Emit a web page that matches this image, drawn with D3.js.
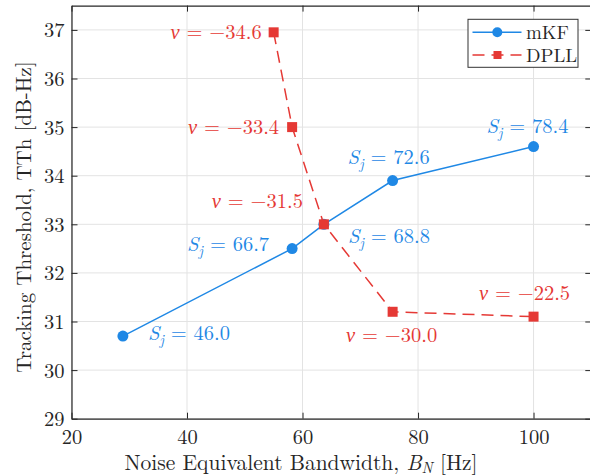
<!DOCTYPE html>
<html><head><meta charset="utf-8">
<script src="https://cdn.jsdelivr.net/npm/d3@7"></script>
<style>
html,body{margin:0;padding:0;background:#fff;}
svg{display:block;}
</style></head>
<body>
<svg id="c" width="590" height="476"></svg>
<script>
// ---- data ----
const mkfBN  = [28.9, 58.2, 63.7, 75.6, 100];
const mkfTTh = [30.7, 32.5, 33.0, 33.9, 34.6];
const mkfSj  = ["46.0", "66.7", "68.8", "72.6", "78.4"];
const dpllBN  = [55.0, 58.2, 63.7, 75.6, 100];
const dpllTTh = [36.95, 35.0, 33.0, 31.2, 31.1];
const dpllNu  = ["−34.6", "−33.4", "−31.5", "−30.0", "−22.5"];
const xTicks = [20, 40, 60, 80, 100];
const yTicks = [29, 30, 31, 32, 33, 34, 35, 36, 37];
const seriesNames = ["mKF", "DPLL"];

// ---- layout (not data) ----
const mkfLabelPos = [
  {dx: 25, dy: -3, anchor: "start"},
  {dx: -23, dy: -5, anchor: "end"},
  {dx: 24, dy: 12, anchor: "start"},
  {dx: -4, dy: -24, anchor: "middle"},
  {dx: -6, dy: -21, anchor: "middle"}
];
const dpllLabelPos = [
  {dx: -12, dy: 0, anchor: "end"},
  {dx: -13, dy: 0, anchor: "end"},
  {dx: -21, dy: -23, anchor: "end"},
  {dx: -1, dy: 23, anchor: "middle"},
  {dx: -9, dy: -24, anchor: "middle"}
];

const FONT = '"Latin Modern Roman","CMU Serif","Liberation Serif",serif';
const blue = "#1f88e5", red = "#e53935", ink = "#262626";
const svg = d3.select("#c");
const L = 71.5, R = 591.3, T = 5.6, B = 418.7;
const x = d3.scaleLinear().domain([20, 110]).range([L, R]);
const y = d3.scaleLinear().domain([29, 37.5]).range([B, T]);

// grid
const g = svg.append("g");
g.selectAll(".gx").data(xTicks).enter().append("line")
  .attr("x1", d => x(d)).attr("x2", d => x(d)).attr("y1", T).attr("y2", B)
  .attr("stroke", "#e3e3e3").attr("stroke-width", 1);
g.selectAll(".gy").data(yTicks).enter().append("line")
  .attr("x1", L).attr("x2", R).attr("y1", d => y(d)).attr("y2", d => y(d))
  .attr("stroke", "#e3e3e3").attr("stroke-width", 1);

// axes
const axB = svg.append("g").attr("transform", `translate(0,${B})`)
  .call(d3.axisBottom(x).tickValues(xTicks).tickSizeInner(-6).tickSizeOuter(0).tickPadding(12));
const axL = svg.append("g").attr("transform", `translate(${L},0)`)
  .call(d3.axisLeft(y).tickValues(yTicks).tickSizeInner(-6).tickSizeOuter(0).tickPadding(7));
const axT = svg.append("g").attr("transform", `translate(0,${T})`)
  .call(d3.axisTop(x).tickValues(xTicks).tickSizeInner(-6).tickSizeOuter(0).tickFormat(""));
const axR = svg.append("g").attr("transform", `translate(${R},0)`)
  .call(d3.axisRight(y).tickValues(yTicks).tickSizeInner(-6).tickSizeOuter(0).tickFormat(""));
[axB, axL, axT, axR].forEach(a => {
  a.attr("font-family", null);
  a.selectAll("path.domain").attr("stroke", ink).attr("stroke-width", 1.2);
  a.selectAll(".tick line").attr("stroke", ink).attr("stroke-width", 1);
  a.selectAll("text").attr("fill", ink).style("font-size", "20.5px").style("font-family", FONT);
});
axB.selectAll("text").attr("dy", "0.64em");
axL.selectAll("text").attr("dy", "0.34em");

// axis labels
const xl = svg.append("text").attr("x", 301).attr("y", 470).attr("text-anchor", "middle")
  .attr("fill", ink).style("font-size", "21.5px").style("font-family", FONT);
xl.append("tspan").text("Noise Equivalent Bandwidth, ");
xl.append("tspan").attr("font-style", "italic").text("B");
xl.append("tspan").attr("font-style", "italic").attr("dy", 3).style("font-size", "15px").text("N");
xl.append("tspan").attr("dy", -3).text(" [Hz]");

svg.append("text").attr("transform", "translate(31,217) rotate(-90)")
  .attr("text-anchor", "middle").attr("fill", ink).style("font-size", "21px").style("font-family", FONT)
  .text("Tracking Threshold, TTh [dB-Hz]");

// lines
const mkf = mkfBN.map((v, i) => ({x: v, y: mkfTTh[i], t: mkfSj[i], p: mkfLabelPos[i]}));
const dpll = dpllBN.map((v, i) => ({x: v, y: dpllTTh[i], t: dpllNu[i], p: dpllLabelPos[i]}));
const line = d3.line().x(d => x(d.x)).y(d => y(d.y));

svg.append("path").datum(mkf).attr("d", line).attr("fill", "none")
  .attr("stroke", blue).attr("stroke-width", 1.5);
svg.selectAll(".mk").data(mkf).enter().append("circle")
  .attr("cx", d => x(d.x)).attr("cy", d => y(d.y)).attr("r", 5.5).attr("fill", blue);

svg.append("path").datum(dpll).attr("d", line).attr("fill", "none")
  .attr("stroke", red).attr("stroke-width", 1.5).attr("stroke-dasharray", "12,7");
svg.selectAll(".dp").data(dpll).enter().append("rect")
  .attr("x", d => x(d.x) - 5).attr("y", d => y(d.y) - 5).attr("width", 10).attr("height", 10)
  .attr("fill", red);

// labels
const lfs = "20.5px";
mkf.forEach(d => {
  const t = svg.append("text").attr("x", x(d.x) + d.p.dx).attr("y", y(d.y) + d.p.dy + 7)
    .attr("text-anchor", d.p.anchor).attr("fill", blue).style("font-size", lfs).style("font-family", FONT);
  t.append("tspan").attr("font-style", "italic").text("S");
  t.append("tspan").attr("font-style", "italic").attr("dy", 5).style("font-size", "14.5px").text("j");
  t.append("tspan").attr("dy", -5).text(" = " + d.t);
});
dpll.forEach(d => {
  const t = svg.append("text").attr("x", x(d.x) + d.p.dx).attr("y", y(d.y) + d.p.dy + 7)
    .attr("text-anchor", d.p.anchor).attr("fill", red).style("font-size", lfs).style("font-family", FONT);
  t.append("tspan").attr("font-style", "italic").text("ν");
  t.append("tspan").text(" = " + d.t);
});

// legend
const lg = svg.append("g");
lg.append("rect").attr("x", 468).attr("y", 19.3).attr("width", 110).attr("height", 48)
  .attr("fill", "#fff").attr("stroke", "#333").attr("stroke-width", 1);
const legY = [32.3, 55];
const colors = [blue, red];
seriesNames.forEach((n, i) => {
  lg.append("line").attr("x1", 472.5).attr("x2", 521.5).attr("y1", legY[i]).attr("y2", legY[i])
    .attr("stroke", colors[i]).attr("stroke-width", 1.5)
    .attr("stroke-dasharray", i === 1 ? "12,7" : null);
  if (i === 0) lg.append("circle").attr("cx", 497.3).attr("cy", legY[i]).attr("r", 5).attr("fill", blue);
  else lg.append("rect").attr("x", 493.5).attr("y", legY[i] - 4).attr("width", 8).attr("height", 8).attr("fill", red);
  lg.append("text").attr("x", 526).attr("y", legY[i] + 6.5).attr("fill", ink)
    .style("font-size", "19px").style("font-family", FONT).text(n);
});
</script>
</body></html>
